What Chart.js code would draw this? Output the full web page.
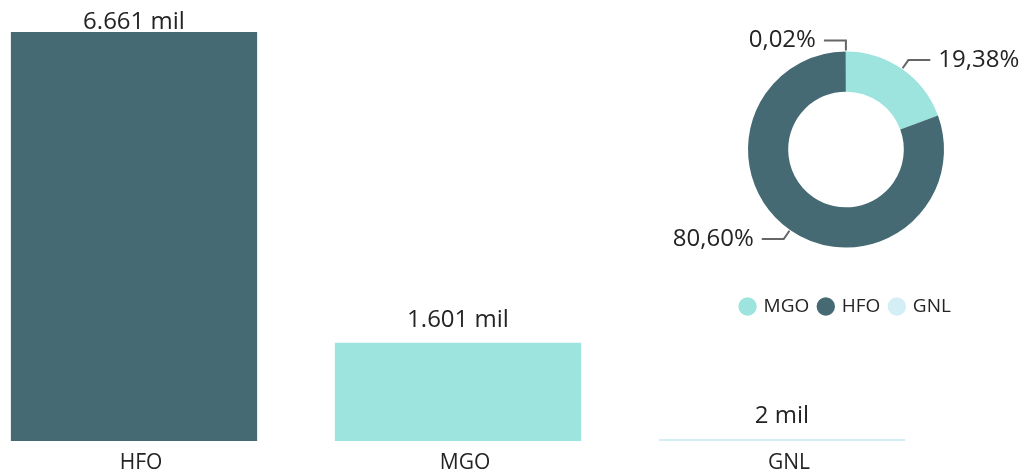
<!DOCTYPE html>
<html>
<head>
<meta charset="utf-8">
<script src="https://cdn.jsdelivr.net/npm/chart.js@4.4.0/dist/chart.umd.min.js"></script>
<style>
  html, body { margin: 0; padding: 0; background: #fff; width: 1024px; height: 475px; overflow: hidden; position: relative; }
  #bars { position: absolute; left: -28px; top: 0; }
  #donut { position: absolute; left: 646px; top: 0; }
</style>
</head>
<body>
<canvas id="bars" width="972" height="475"></canvas>
<canvas id="donut" width="400" height="326"></canvas>
<script>
// consumo por combustível (em mil)
const fuels = ['HFO', 'MGO', 'GNL'];
const consumo = [6661, 1601.4, 2];
const donutOrder = ['MGO', 'HFO', 'GNL'];
const colors = { HFO: '#466a73', MGO: '#9ce4dd', GNL: '#d4eef6' };

const donutValues = donutOrder.map(f => consumo[fuels.indexOf(f)]);
const textColor = '#252423';
const fontFamily = '"Open Sans", "DejaVu Sans", sans-serif';

function fmtMil(v) {
    return Math.round(v).toString().replace(/\B(?=(\d{3})+(?!\d))/g, '.') + ' mil';
}
function fmtPct(v) {
    return v.toFixed(2).replace('.', ',') + '%';
}

// labels above the bars
const barLabels = {
    id: 'barLabels',
    afterDatasetsDraw(chart) {
        const ctx = chart.ctx;
        const meta = chart.getDatasetMeta(0);
        ctx.save();
        ctx.font = '24px ' + fontFamily;
        ctx.fillStyle = textColor;
        ctx.textAlign = 'center';
        ctx.textBaseline = 'alphabetic';
        meta.data.forEach((bar, i) => {
            const y = Math.max(bar.y - 16, 29);
            ctx.fillText(fmtMil(consumo[i]), bar.x, y);
        });
        ctx.restore();
    }
};

// percent labels with leader lines
const donutLabels = {
    id: 'donutLabels',
    afterDatasetsDraw(chart) {
        const ctx = chart.ctx;
        const meta = chart.getDatasetMeta(0);
        const total = donutValues.reduce((a, b) => a + b, 0);
        ctx.save();
        ctx.font = '24px ' + fontFamily;
        ctx.fillStyle = textColor;
        ctx.strokeStyle = '#666666';
        ctx.lineWidth = 2;
        meta.data.forEach((arc, i) => {
            const mid = (arc.startAngle + arc.endAngle) / 2;
            const r = arc.outerRadius;
            const cos = Math.cos(mid), sin = Math.sin(mid);
            const x0 = arc.x + cos * (r + 1), y0 = arc.y + sin * (r + 1);
            const x1 = arc.x + cos * (r + 11), y1 = arc.y + sin * (r + 11);
            const dir = cos > 0 ? 1 : -1;
            const x2 = x1 + dir * 22;
            ctx.beginPath();
            ctx.moveTo(x0, y0);
            ctx.lineTo(x1, y1);
            ctx.lineTo(x2, y1);
            ctx.stroke();
            ctx.textAlign = dir > 0 ? 'left' : 'right';
            ctx.textBaseline = 'middle';
            ctx.fillText(fmtPct(donutValues[i] / total * 100), x2 + dir * 8, y1);
        });
        ctx.restore();
    }
};

new Chart(document.getElementById('bars'), {
    type: 'bar',
    data: {
        labels: fuels,
        datasets: [{
            data: consumo,
            backgroundColor: fuels.map(f => colors[f]),
            barPercentage: 0.76,
            categoryPercentage: 1,
            minBarLength: 2
        }]
    },
    options: {
        responsive: false,
        animation: false,
        layout: { padding: { top: 32, bottom: 3 } },
        plugins: { legend: { display: false }, tooltip: { enabled: false } },
        scales: {
            x: {
                grid: { display: false, drawTicks: false },
                border: { display: false },
                ticks: { color: textColor, font: { family: fontFamily, size: 21 }, padding: 9, labelOffset: 7 },
                afterFit(scale) { scale.height = 31; }
            },
            y: { display: false, min: 0, max: Math.max(...consumo) }
        }
    },
    plugins: [barLabels]
});

new Chart(document.getElementById('donut'), {
    type: 'doughnut',
    data: {
        labels: donutOrder,
        datasets: [{
            data: donutValues,
            backgroundColor: donutOrder.map(f => colors[f]),
            borderWidth: 0,
            radius: 98,
            cutout: '59%'
        }]
    },
    options: {
        responsive: false,
        animation: false,
        layout: { padding: { top: 12 } },
        plugins: {
            tooltip: { enabled: false },
            legend: {
                position: 'bottom',
                labels: {
                    usePointStyle: true,
                    pointStyle: 'circle',
                    boxWidth: 13,
                    boxHeight: 13,
                    padding: 10,
                    color: textColor,
                    font: { family: fontFamily, size: 19 }
                }
            }
        }
    },
    plugins: [donutLabels]
});
</script>
</body>
</html>
